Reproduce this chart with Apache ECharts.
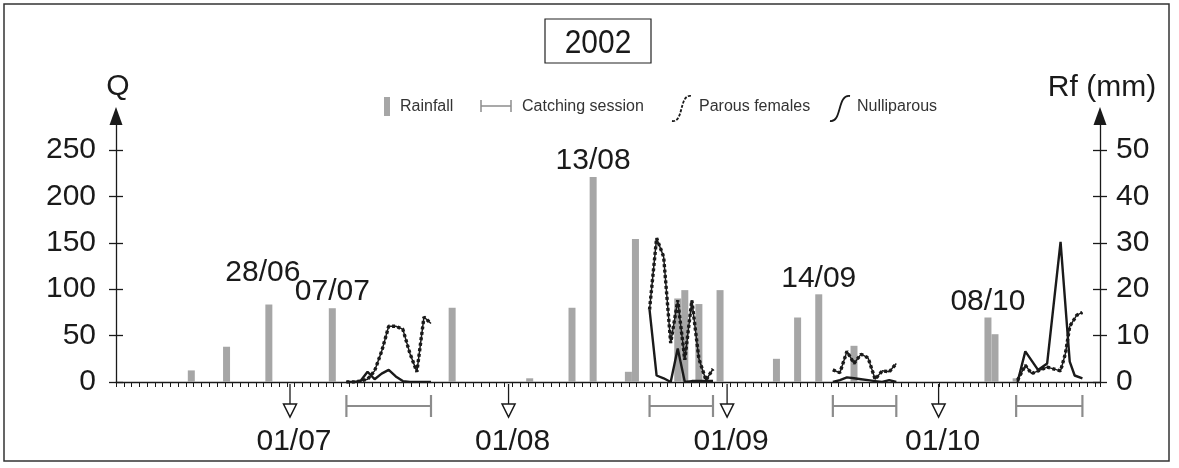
<!DOCTYPE html>
<html><head><meta charset="utf-8">
<script src="https://cdn.jsdelivr.net/npm/echarts@6/dist/echarts.min.js"></script>
<style>html,body{margin:0;padding:0;background:#fff}#c{width:1179px;height:468px}</style>
</head><body><div id="c"></div>
<script>
// Day index: 0 = 1 June 2002
const rainDays = [16, 21, 27, 36, 53, 64, 70, 73, 78, 79, 85, 86, 88, 91, 99, 102, 105, 110, 129, 130, 133];
const rainMm   = [2.5, 7.6, 16.7, 15.9, 16.0, 0.8, 16.0, 44.2, 2.2, 30.8, 18.0, 19.8, 16.8, 19.8, 5.0, 13.9, 18.9, 7.8, 13.9, 10.3, 0.8];

const annotDays   = [27, 36, 73, 105, 129];
const annotLabels = ['28/06', '07/07', '13/08', '14/09', '08/10'];

const monthDays   = [30, 61, 92, 122];
const monthLabels = ['01/07', '01/08', '01/09', '01/10'];

const sessionStart = [38, 81, 107, 133];
const sessionEnd   = [50, 90, 116, 142.4];

const qTicks  = [0, 50, 100, 150, 200, 250];
const rfTicks = [0, 10, 20, 30, 40, 50];

// Session 1 (July)
const days1    = [38, 39, 40, 41, 42, 43, 44, 45, 46, 47, 48, 49, 50];
const parous1  = [0, 0, 1, 3, 12, 33, 60, 60, 57, 31, 11, 70, 63];
const nulli1   = [0, 0, 1, 11, 3, 9, 13, 6, 1, 0, 0, 0, 0];
// Session 2 (August)
const days2    = [81, 82, 83, 84, 85, 86, 87, 88, 89, 90];
const parous2  = [78, 155, 135, 42, 88, 24, 88, 25, 2, 14];
const nulli2   = [78, 7, 4, 0, 36, 0, 1, 1, 1, 1];
// Session 3 (September)
const days3    = [107, 108, 109, 110, 111, 112, 113, 114, 115, 116];
const parous3  = [13, 10, 33, 20, 30, 26, 3, 12, 11, 20];
const nulli3   = [0, 2, 5, 4, 3, 2, 1, 0, 2, 0];
// Session 4 (October)
const parousDays4 = [133.2, 134.3, 135.2, 137.4, 139.3, 140.0, 140.6, 141.6, 142.4];
const parous4     = [2, 18, 9, 16, 12, 31, 60, 72, 75];
const nulliDays4  = [133.2, 134.3, 136.1, 137.4, 139.3, 140.6, 141.3, 142.4];
const nulli4      = [0, 33, 13, 20, 151, 22, 7, 4];

const FONT = "'Liberation Sans', Arial, Helvetica, sans-serif";
const INK = '#1a1a1a';
const GREY_BAR = '#a6a6a6';
const GREY_SESSION = '#8c8c8c';

function zip(d, v) { return d.map((x, i) => [x, v[i]]); }

const parousSets = [zip(days1, parous1), zip(days2, parous2), zip(days3, parous3), zip(parousDays4, parous4)];
const nulliSets  = [zip(days1, nulli1), zip(days2, nulli2), zip(days3, nulli3), zip(nulliDays4, nulli4)];

const barData = rainDays.map((d, i) => {
  const k = annotDays.indexOf(d);
  const item = { value: [d, rainMm[i]] };
  if (k >= 0) {
    item.label = {
      show: true, position: 'top', distance: 1,
      formatter: annotLabels[k],
      fontSize: 30, fontFamily: FONT, color: INK,
      offset: d === 27 ? [-6, -16] : [0, 0]
    };
  }
  return item;
});

const series = [];
series.push({
  type: 'bar', name: 'Rainfall', xAxisIndex: 0, yAxisIndex: 1,
  data: barData, barWidth: 7, itemStyle: { color: GREY_BAR },
  label: { show: false }, z: 2
});
nulliSets.forEach(set => series.push({
  type: 'line', name: 'Nulliparous', xAxisIndex: 0, yAxisIndex: 0,
  data: set, showSymbol: false, symbol: 'none',
  lineStyle: { color: INK, width: 2.4 }, z: 4
}));
parousSets.forEach(set => {
  series.push({
    type: 'line', name: 'Parous females', xAxisIndex: 0, yAxisIndex: 0,
    data: set, showSymbol: false, symbol: 'none',
    lineStyle: { color: INK, width: 1.5 }, z: 5
  });
  series.push({
    type: 'line', name: 'Parous females', xAxisIndex: 0, yAxisIndex: 0,
    data: set, showSymbol: false, symbol: 'none',
    lineStyle: { color: INK, width: 3.4, type: [3, 2.5] }, z: 5
  });
});
series.push({
  type: 'custom', name: 'months', xAxisIndex: 0, yAxisIndex: 0,
  data: monthDays.map(d => [d, 0]),
  renderItem: function (params, api) {
    const p = api.coord([api.value(0), 0]);
    const x = p[0], y = p[1];
    return { type: 'group', children: [
      { type: 'line', shape: { x1: x, y1: y + 2, x2: x, y2: y + 22 }, style: { stroke: INK, lineWidth: 1.3 } },
      { type: 'polygon', shape: { points: [[x - 6.5, y + 22], [x + 6.5, y + 22], [x, y + 35]] }, style: { fill: '#fff', stroke: INK, lineWidth: 1.5 } },
      { type: 'text', x: x + 4, y: y + 60, style: { text: monthLabels[params.dataIndex], fontSize: 30, fontFamily: FONT, fill: INK, align: 'center', verticalAlign: 'middle' } }
    ] };
  }, z: 6
});
series.push({
  type: 'custom', name: 'sessions', xAxisIndex: 0, yAxisIndex: 0,
  data: sessionStart.map((s, i) => [s, 0, sessionEnd[i]]),
  renderItem: function (params, api) {
    const a = api.coord([api.value(0), 0]);
    const b = api.coord([api.value(2), 0]);
    const y = a[1];
    const st = { stroke: GREY_SESSION, lineWidth: 2.2 };
    return { type: 'group', children: [
      { type: 'line', shape: { x1: a[0], y1: y + 24, x2: b[0], y2: y + 24 }, style: st },
      { type: 'line', shape: { x1: a[0], y1: y + 13, x2: a[0], y2: y + 35 }, style: st },
      { type: 'line', shape: { x1: b[0], y1: y + 13, x2: b[0], y2: y + 35 }, style: st }
    ] };
  }, z: 6
});

const yBase = (pos, max, ticks, inside, showLine, showLabel, margin) => ({
  type: 'value', position: pos, min: 0, max: max,
  axisLine: showLine ? { show: true, onZero: false, symbol: ['none', 'triangle'], symbolSize: [13, 18], lineStyle: { color: INK, width: 1.3 } } : { show: false },
  axisTick: { show: true, inside: inside, length: 7, customValues: ticks, lineStyle: { color: INK, width: 1.3 } },
  axisLabel: { show: showLabel, customValues: ticks, fontSize: 30, fontFamily: FONT, color: INK, margin: margin },
  splitLine: { show: false }
});

const option = {
  animation: false,
  backgroundColor: '#fff',
  grid: { left: 116, right: 79, top: 116, bottom: 86, containLabel: false },
  xAxis: [
    { type: 'value', position: 'bottom', min: 5.319, max: 144.894,
      axisLine: { show: true, onZero: false, lineStyle: { color: INK, width: 1.3 } },
      axisTick: { show: false }, axisLabel: { show: false }, splitLine: { show: false } },
    { type: 'value', position: 'bottom', min: 0, max: 126.64, interval: 1,
      axisLine: { show: false, onZero: false },
      axisTick: { show: true, length: 5, lineStyle: { color: INK, width: 1 } },
      axisLabel: { show: false }, splitLine: { show: false } }
  ],
  yAxis: [
    yBase('left', 286.64, qTicks, false, true, true, 20),
    yBase('right', 57.33, rfTicks, false, true, true, 16),
    yBase('left', 286.64, qTicks, true, false, false, 0),
    yBase('right', 57.33, rfTicks, true, false, false, 0)
  ],
  series: series,
  graphic: [
    { type: 'rect', z: 0, shape: { x: 4, y: 4, width: 1165, height: 457 }, style: { fill: 'none', stroke: '#333', lineWidth: 1.5 } },
    { type: 'rect', shape: { x: 545, y: 19, width: 106, height: 44 }, style: { fill: 'none', stroke: '#222', lineWidth: 1.2 } },
    { type: 'text', x: 598, y: 44, scaleX: 0.88, style: { text: '2002', fontSize: 34, fontFamily: FONT, fill: INK, align: 'center', verticalAlign: 'middle' } },
    { type: 'text', x: 118, y: 87, style: { text: 'Q', fontSize: 30, fontFamily: FONT, fill: INK, align: 'center', verticalAlign: 'middle' } },
    { type: 'text', x: 1102, y: 88, style: { text: 'Rf (mm)', fontSize: 30, fontFamily: FONT, fill: INK, align: 'center', verticalAlign: 'middle' } },
    // legend
    { type: 'rect', shape: { x: 384, y: 97, width: 6, height: 19 }, style: { fill: GREY_BAR } },
    { type: 'text', x: 400, y: 107, style: { text: 'Rainfall', fontSize: 16, fontFamily: FONT, fill: '#333', align: 'left', verticalAlign: 'middle' } },
    { type: 'line', shape: { x1: 481, y1: 106, x2: 511, y2: 106 }, style: { stroke: GREY_SESSION, lineWidth: 1.5 } },
    { type: 'line', shape: { x1: 481, y1: 100, x2: 481, y2: 112 }, style: { stroke: GREY_SESSION, lineWidth: 1.5 } },
    { type: 'line', shape: { x1: 511, y1: 100, x2: 511, y2: 112 }, style: { stroke: GREY_SESSION, lineWidth: 1.5 } },
    { type: 'text', x: 522, y: 107, style: { text: 'Catching session', fontSize: 16, fontFamily: FONT, fill: '#333', align: 'left', verticalAlign: 'middle' } },
    { type: 'bezierCurve', shape: { x1: 672, y1: 121, cpx1: 684, cpy1: 123, cpx2: 679, cpy2: 94, x2: 691, y2: 96 }, style: { fill: 'none', stroke: INK, lineWidth: 1.8, lineDash: [3, 1.5] } },
    { type: 'text', x: 699, y: 107, style: { text: 'Parous females', fontSize: 16, fontFamily: FONT, fill: '#333', align: 'left', verticalAlign: 'middle' } },
    { type: 'bezierCurve', shape: { x1: 830, y1: 121, cpx1: 842, cpy1: 123, cpx2: 837, cpy2: 94, x2: 850, y2: 96 }, style: { fill: 'none', stroke: INK, lineWidth: 1.8 } },
    { type: 'text', x: 857, y: 107, style: { text: 'Nulliparous', fontSize: 16, fontFamily: FONT, fill: '#333', align: 'left', verticalAlign: 'middle' } }
  ]
};

const chart = echarts.init(document.getElementById('c'), null, { renderer: 'canvas' });
chart.setOption(option);
</script>
</body></html>
